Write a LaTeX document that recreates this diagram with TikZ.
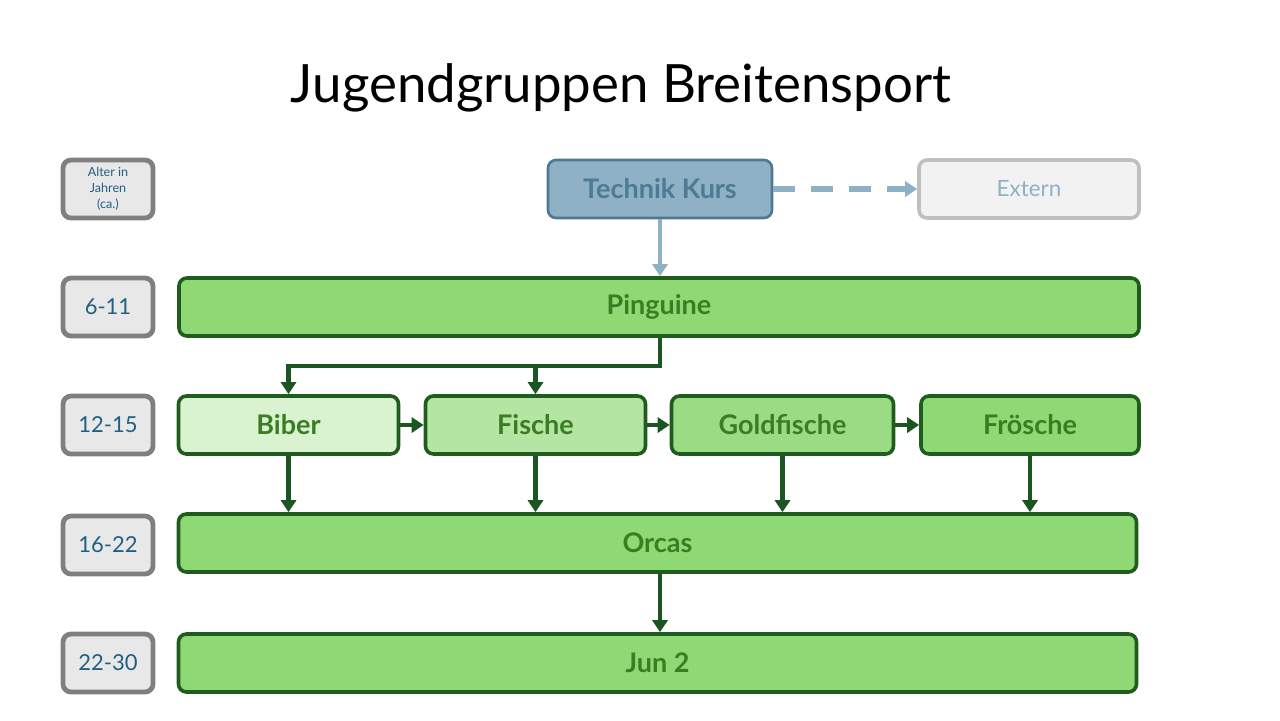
\documentclass[tikz,border=0pt]{standalone}
\usepackage{fontspec}
\setmainfont{Lato}
\usetikzlibrary{arrows.meta,calc}
\definecolor{gfill}{HTML}{8ED973}
\definecolor{gfillA}{HTML}{D9F2D0}
\definecolor{gfillB}{HTML}{B4E5A2}
\definecolor{gfillC}{HTML}{9ADC84}
\definecolor{gborder}{HTML}{215C1F}
\definecolor{garrowc}{HTML}{1B5522}
\definecolor{gtext}{HTML}{3B7D23}
\definecolor{tfill}{HTML}{8EB1C5}
\definecolor{tborder}{HTML}{4F7891}
\definecolor{ttext}{HTML}{4E7A94}
\definecolor{efill}{HTML}{F2F2F2}
\definecolor{eborder}{HTML}{BFBFBF}
\definecolor{afill}{HTML}{E8E8E8}
\definecolor{aborder}{HTML}{7F7F7F}
\definecolor{atext}{HTML}{215F84}
\tikzset{
  base/.style={rectangle, rounded corners=4pt, inner sep=0pt, minimum height=29pt, align=center},
  agebox/.style={base, draw=aborder, fill=afill, line width=2.4pt, minimum width=45pt, text=atext, font=\fontsize{11}{13}\selectfont},
  grp/.style={base, draw=gborder, line width=1.8pt, text=gtext, font=\bfseries\fontsize{13.5}{15}\selectfont},
  techbox/.style={base, draw=tborder, fill=tfill, line width=1.3pt, text=ttext, font=\bfseries\fontsize{13.5}{15}\selectfont},
  extbox/.style={base, draw=eborder, fill=efill, line width=1.8pt, text=tfill, font=\fontsize{11.2}{13}\selectfont},
  garrow/.style={draw=garrowc, line width=2.2pt, -{Triangle[length=6pt,width=7.5pt]}},
  tarrow/.style={draw=tfill, line width=2.2pt, -{Triangle[length=6pt,width=7.5pt]}},
}
\begin{document}
\begin{tikzpicture}[x=0.5pt,y=-0.5pt]
\useasboundingbox (0,0) rectangle (1280,720);
\node[font=\fontsize{26.4}{30}\selectfont] (title) at (621,88) {Jugendgruppen Breitensport};
% age boxes
\node[agebox, font=\fontsize{6.3}{8}\selectfont] (a0) at (108,189) {Alter in\\Jahren\\(ca.)};
\node[agebox] (a1) at (108,307) {6-11};
\node[agebox] (a2) at (108,425) {12-15};
\node[agebox] (a3) at (108,545) {16-22};
\node[agebox] (a4) at (108,663) {22-30};
% top row
\node[techbox, minimum width=112pt] (tech) at (660,189) {Technik Kurs};
\node[extbox, minimum width=110pt] (ext) at (1029,189) {Extern};
% groups
\node[grp, fill=gfill, minimum width=480pt] (ping) at (659,307) {Pinguine};
\node[grp, fill=gfillA, minimum width=110pt] (biber) at (288.5,425) {Biber};
\node[grp, fill=gfillB, minimum width=110pt] (fische) at (535.5,425) {Fische};
\node[grp, fill=gfillC, minimum width=111pt] (gold) at (782.5,425) {Goldfische};
\node[grp, fill=gfill, minimum width=109pt] (frosch) at (1030,425) {Frösche};
\node[grp, fill=gfill, minimum width=479pt] (orcas) at (657.5,543) {Orcas};
\node[grp, fill=gfill, minimum width=479pt] (jun) at (657.5,663) {Jun 2};
% connectors
\draw[tarrow, line width=2.6pt, dash pattern=on 11pt off 8pt] (tech.east) -- (ext.west);
\draw[tarrow] (tech.south) -- (tech.south |- ping.north);
\coordinate (split) at (660,366);
\draw[garrow] (ping.south -| split) -- (split) -| (biber.north);
\draw[garrow] (split -| fische.north) -- (fische.north);
\draw[garrow] (biber) -- (fische);
\draw[garrow] (fische) -- (gold);
\draw[garrow] (gold) -- (frosch);
\draw[garrow] (biber.south) -- (biber.south |- orcas.north);
\draw[garrow] (fische.south) -- (fische.south |- orcas.north);
\draw[garrow] (gold.south) -- (gold.south |- orcas.north);
\draw[garrow] (frosch.south) -- (frosch.south |- orcas.north);
\draw[garrow] (orcas.south -| split) -- (jun.north -| split);
\end{tikzpicture}
\end{document}
